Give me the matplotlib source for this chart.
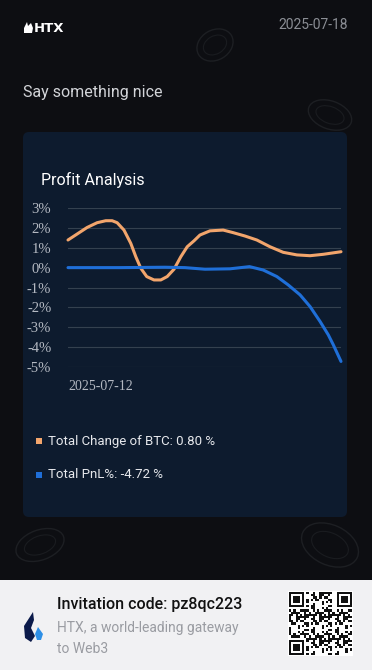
#HTX share card with a profit analysis line chart
import matplotlib
matplotlib.use('Agg')
import matplotlib.pyplot as plt
from matplotlib.patches import FancyBboxPatch, Rectangle, Ellipse, Polygon
import numpy as np

#data (x in days since 2025-07-12)
btc_x = [0, 0.20, 0.42, 0.64, 0.83, 0.97, 1.08, 1.23, 1.38, 1.49, 1.60, 1.73, 1.89, 2.04, 2.18, 2.33,
         2.48, 2.62, 2.77, 2.90, 3.12, 3.41, 3.63, 3.89, 4.15, 4.44, 4.73, 5.03, 5.32, 5.61, 6]
btc_change = [1.39, 1.69, 2.02, 2.26, 2.36, 2.36, 2.26, 1.89, 1.22, 0.55, -0.03, -0.45, -0.62, -0.62, -0.45, -0.08,
              0.55, 1.05, 1.35, 1.64, 1.85, 1.89, 1.76, 1.59, 1.39, 1.05, 0.77, 0.64, 0.60, 0.67, 0.80]
pnl_x = [0, 1.14, 2.13, 2.57, 3.01, 3.56, 3.99, 4.29, 4.59, 4.84, 5.10, 5.32, 5.54, 5.72, 5.83, 6]
pnl = [0, 0, 0.02, 0, -0.08, -0.06, 0.05, -0.12, -0.45, -0.87, -1.37, -1.96, -2.71, -3.38, -3.88, -4.72]
y_ticks = [3, 2, 1, 0, -1, -2, -3, -4, -5]
x_label = '2025-07-12'
legend_labels = ['Total Change of BTC: 0.80 %', 'Total PnL%: -4.72 %']

W, H = 372, 670
fig = plt.figure(figsize=(W / 100, H / 100), dpi=100)
fig.patch.set_facecolor('#0d0e12')

#background axes in pixel coords
bg = fig.add_axes([0, 0, 1, 1])
bg.set_xlim(0, W)
bg.set_ylim(H, 0)
bg.axis('off')

#faint coin decorations
for cx, cy, w, h, a in [(215, 45, 38, 30, -30), (330, 115, 45, 28, 20), (40, 545, 50, 30, -20), (330, 545, 60, 40, 25)]:
    bg.add_patch(Ellipse((cx, cy), w, h, angle=a, fill=False, ec='#1d1f23', lw=1.0))
    bg.add_patch(Ellipse((cx, cy), w * 0.65, h * 0.6, angle=a, fill=False, ec='#1a1c20', lw=0.8))

#header
flame = Polygon([(24, 33), (24, 28), (27, 22), (28, 26), (31, 23), (33, 28), (32, 33)], closed=True, fc='white', ec='none')
bg.add_patch(flame)
bg.text(34, 28.5, 'HTX', color='white', fontsize=9.5, fontweight='bold', va='center', ha='left', family='DejaVu Sans')
bg.text(348, 25, '2025-07-18', color='#8b8e95', fontsize=10, va='center', ha='right', family='Roboto')
bg.text(23, 93, 'Say something nice', color='#d2d4d8', fontsize=11.5, va='center', ha='left', family='Roboto')

#chart panel
bg.add_patch(FancyBboxPatch((23, 132), 324, 385, boxstyle='round,pad=0,rounding_size=6', fc='#0d1b2e', ec='none'))
bg.text(41, 180, 'Profit Analysis', color='white', fontsize=11.5, va='center', ha='left', family='Roboto')

#legend
colors = ['#f2a56c', '#1f6fd8']
for i, (lab, c) in enumerate(zip(legend_labels, colors)):
    y = 441 + i * 34
    bg.add_patch(Rectangle((35.5, y - 3), 6, 6, fc=c, ec='none'))
    bg.text(48, y, lab, color='#e6e8ec', fontsize=9.5, va='center', ha='left', family='Roboto')

#footer
bg.add_patch(Rectangle((0, 580), W, 90, fc='#f1f1f3', ec='none'))
bg.add_patch(Polygon([(33, 612), (24, 626), (25, 638), (31, 642), (35, 636), (31, 628), (34, 620)], closed=True, fc='#0b1a4a', ec='none'))
bg.add_patch(Polygon([(38, 627), (35, 634), (37, 640), (41, 640), (43, 634)], closed=True, fc='#2d8fe6', ec='none'))
bg.text(57, 605, 'Invitation code: pz8qc223', color='#111111', fontsize=11.5, va='center', ha='left', family='Roboto', fontweight='medium')
bg.text(57, 628, 'HTX, a world-leading gateway', color='#9a9ca2', fontsize=10, va='center', ha='left', family='Roboto')
bg.text(57, 649, 'to Web3', color='#9a9ca2', fontsize=10, va='center', ha='left', family='Roboto')

#qr code look-alike
qr_x, qr_y, qr_s, n = 289, 592, 63, 29
cell = qr_s / n
bg.add_patch(Rectangle((qr_x - 1, qr_y - 1), qr_s + 2, qr_s + 2, fc='white', ec='none'))
for i in range(n):
    for j in range(n):
        in_top = i < 8
        in_left = j < 8
        in_right = j >= n - 8
        in_bottom = i >= n - 8
        if (in_top and in_left) or (in_top and in_right) or (in_bottom and in_left):
            a = i - (n - 7) if in_bottom else i
            b = j - (n - 7) if in_right else j
            on = (0 <= a <= 6 and 0 <= b <= 6) and (a in (0, 6) or b in (0, 6) or (2 <= a <= 4 and 2 <= b <= 4))
        else:
            on = ((i * i * 3 + j * j * 5 + i * j * 7 + i) % 11) < 5
        if on:
            bg.add_patch(Rectangle((qr_x + j * cell, qr_y + i * cell), cell, cell, fc='#111111', ec='none'))

#line chart
top, bottom, left, right = 208, 367, 68, 341
ax = fig.add_axes([left / W, 1 - bottom / H, (right - left) / W, (bottom - top) / H])
ax.set_facecolor('none')
ax.set_xlim(0, 6)
ax.set_ylim(-5, 3)
for s in ax.spines.values():
    s.set_visible(False)
ax.set_yticks(y_ticks)
ax.set_yticklabels(['%d%%' % t for t in y_ticks], family='Liberation Serif', fontsize=10.5, color='#b4b9c2')
ax.tick_params(axis='y', length=0, pad=12)
ax.set_xticks([0])
ax.set_xticklabels([x_label], family='Liberation Serif', fontsize=10, color='#b4b9c2', ha='left')
ax.tick_params(axis='x', length=0, pad=9)
ax.grid(axis='y', color='#34414f', linewidth=0.8)
ax.set_axisbelow(True)
ax.plot(btc_x, btc_change, color=colors[0], lw=2.2, solid_joinstyle='round', solid_capstyle='round', clip_on=False)
ax.plot(pnl_x, pnl, color=colors[1], lw=2.2, solid_joinstyle='round', solid_capstyle='round', clip_on=False)

fig.savefig('out.png', dpi=100, facecolor=fig.get_facecolor())
